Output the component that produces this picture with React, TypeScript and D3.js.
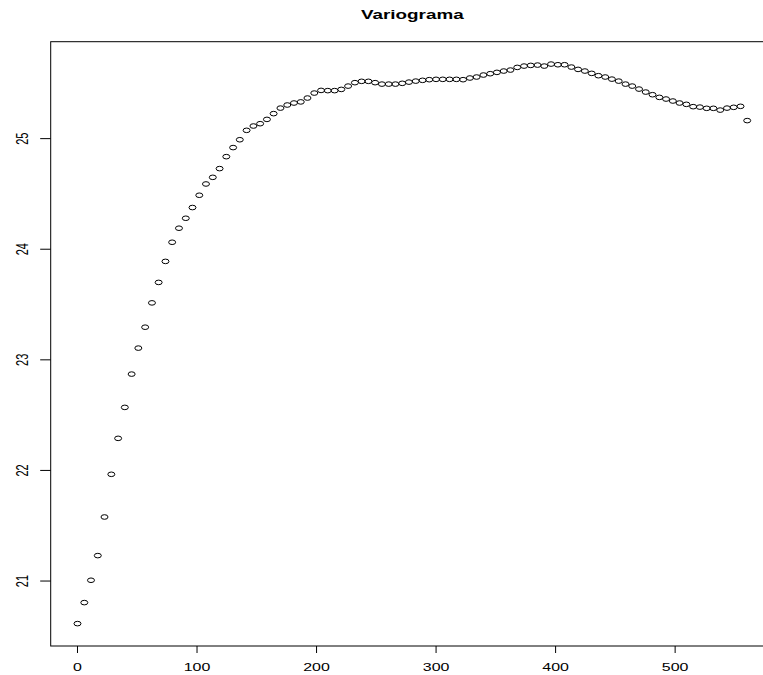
import React from "react";
import * as d3 from "d3";

const lags: number[] = [
  0, 5.7, 11.3, 17.0, 22.6, 28.3, 34.0, 39.6, 45.3, 50.9,
  56.6, 62.3, 67.9, 73.6, 79.2, 84.9, 90.6, 96.2, 101.9, 107.5,
  113.2, 118.9, 124.5, 130.2, 135.8, 141.5, 147.2, 152.8, 158.5, 164.1,
  169.8, 175.5, 181.1, 186.8, 192.4, 198.1, 203.8, 209.4, 215.1, 220.7,
  226.4, 232.1, 237.7, 243.4, 249.0, 254.7, 260.4, 266.0, 271.7, 277.3,
  283.0, 288.7, 294.3, 300.0, 305.6, 311.3, 317.0, 322.6, 328.3, 333.9,
  339.6, 345.3, 350.9, 356.6, 362.2, 367.9, 373.6, 379.2, 384.9, 390.5,
  396.2, 401.9, 407.5, 413.2, 418.8, 424.5, 430.2, 435.8, 441.5, 447.1,
  452.8, 458.5, 464.1, 469.8, 475.4, 481.1, 486.8, 492.4, 498.1, 503.7,
  509.4, 515.1, 520.7, 526.4, 532.0, 537.7, 543.4, 549.0, 554.7, 560.3,
];

const gamma: number[] = [
  20.615, 20.805, 21.007, 21.23, 21.579, 21.965, 22.29, 22.57, 22.871, 23.106,
  23.295, 23.515, 23.70, 23.89, 24.063, 24.19, 24.28, 24.377, 24.488, 24.59,
  24.65, 24.729, 24.837, 24.919, 24.99, 25.075, 25.114, 25.135, 25.174, 25.226,
  25.276, 25.304, 25.322, 25.332, 25.367, 25.412, 25.436, 25.434, 25.434, 25.445,
  25.475, 25.506, 25.518, 25.518, 25.506, 25.493, 25.493, 25.493, 25.50, 25.511,
  25.52, 25.527, 25.533, 25.536, 25.536, 25.536, 25.536, 25.533, 25.548, 25.557,
  25.575, 25.587, 25.599, 25.611, 25.62, 25.644, 25.656, 25.662, 25.665, 25.656,
  25.674, 25.668, 25.668, 25.647, 25.626, 25.611, 25.59, 25.569, 25.557, 25.538,
  25.52, 25.493, 25.475, 25.448, 25.421, 25.397, 25.373, 25.358, 25.34, 25.322,
  25.31, 25.289, 25.285, 25.274, 25.274, 25.258, 25.276, 25.283, 25.292, 25.163,
];

const xTicks: number[] = [0, 100, 200, 300, 400, 500];
const yTicks: number[] = [21, 22, 23, 24, 25];
const title = "Variograma";

const W = 763;
const H = 675;
const SX = 1.45; // horizontal stretch of the reference image
const FONT = "'Liberation Sans', Arial, Helvetica, sans-serif";

function extend(ext: [number, number]): [number, number] {
  const r = ext[1] - ext[0];
  return [ext[0] - 0.04 * r, ext[1] + 0.04 * r];
}

export default function App() {
  const left = 50.7;
  const right = 774;
  const top = 41.7;
  const bottom = 646;

  const x = d3
    .scaleLinear()
    .domain(extend(d3.extent(lags) as [number, number]))
    .range([left, right]);
  const y = d3
    .scaleLinear()
    .domain(extend(d3.extent(gamma) as [number, number]))
    .range([bottom, top]);

  return (
    <svg
      width={W}
      height={H}
      style={{ position: "absolute", left: 0, top: 0, background: "#fff" }}
    >
      <rect x={0} y={0} width={W} height={H} fill="#fff" />
      <text
        transform={`translate(${(left + right) / 2},19) scale(${SX},1)`}
        textAnchor="middle"
        fontFamily={FONT}
        fontWeight="bold"
        fontSize={13}
        fill="#000"
      >
        {title}
      </text>
      <rect
        x={left}
        y={top}
        width={right - left}
        height={bottom - top}
        fill="none"
        stroke="#000"
        strokeWidth={1}
      />
      {xTicks.map((t) => (
        <g key={"x" + t}>
          <line
            x1={x(t)}
            x2={x(t)}
            y1={bottom}
            y2={bottom + 7}
            stroke="#000"
            strokeWidth={1}
          />
          <text
            transform={`translate(${x(t)},671) scale(${SX},1)`}
            textAnchor="middle"
            fontFamily={FONT}
            fontSize={11}
            fill="#000"
          >
            {t}
          </text>
        </g>
      ))}
      {yTicks.map((t) => (
        <g key={"y" + t}>
          <line
            x1={left - 10.5}
            x2={left}
            y1={y(t)}
            y2={y(t)}
            stroke="#000"
            strokeWidth={1}
          />
          <text
            transform={`translate(28,${y(t)}) scale(${SX},1) rotate(-90)`}
            textAnchor="middle"
            fontFamily={FONT}
            fontSize={11}
            fill="#000"
          >
            {t}
          </text>
        </g>
      ))}
      {lags.map((d, i) => (
        <ellipse
          key={i}
          cx={x(d)}
          cy={y(gamma[i])}
          rx={3.5}
          ry={2.3}
          fill="none"
          stroke="#000"
          strokeWidth={1}
        />
      ))}
    </svg>
  );
}
